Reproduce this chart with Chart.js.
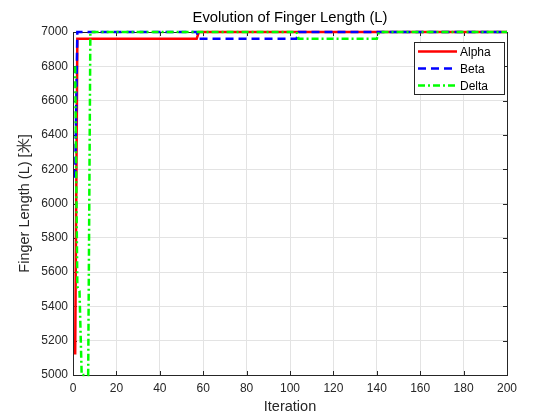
<!DOCTYPE html>
<html>
<head>
<meta charset="utf-8">
<script src="https://cdn.jsdelivr.net/npm/chart.js@4.4.0/dist/chart.umd.min.js"></script>
<style>
  html, body { margin: 0; padding: 0; background: #fff; }
  #wrap { width: 560px; height: 420px; }
</style>
</head>
<body>
<div id="wrap"><canvas id="finger"></canvas></div>
<script>
// step points (iteration, value)
const alphaIter = [1, 2, 57, 58, 200];
const alphaVal  = [5120, 6960, 6960, 7000, 7000];
const betaIter  = [1, 2, 57, 58, 103, 104, 200];
const betaVal   = [6150, 7000, 7000, 6960, 6960, 7000, 7000];
const deltaIter = [1, 2, 3, 4, 7, 8, 103, 104, 140, 141, 200];
const deltaVal  = [6800, 5515, 5490, 5000, 5000, 7000, 7000, 6960, 6960, 7000, 7000];
const xTicks = [0, 20, 40, 60, 80, 100, 120, 140, 160, 180, 200];
const yTicks = [5000, 5200, 5400, 5600, 5800, 6000, 6200, 6400, 6600, 6800, 7000];

function pts(xs, ys) {
    return xs.map((x, i) => ({ x: x, y: ys[i] }));
}

const font = "'Liberation Sans', Arial, sans-serif";
const axisColor = '#262626';
const lineClip = { left: 0, right: 0, top: 3, bottom: 3 };

// frame + inner ticks under the lines, title and legend on top
const matlabLook = {
    id: 'matlabLook',
    beforeDatasetsDraw(chart) {
        const ctx = chart.ctx;
        const a = chart.chartArea;
        const xs = chart.scales.x, ys = chart.scales.y;
        ctx.save();
        ctx.strokeStyle = axisColor;
        ctx.lineWidth = 1;
        ctx.beginPath();
        xTicks.forEach(v => {
            const p = Math.round(xs.getPixelForValue(v)) + 0.5;
            ctx.moveTo(p, a.bottom); ctx.lineTo(p, a.bottom - 4);
            ctx.moveTo(p, a.top); ctx.lineTo(p, a.top + 4);
        });
        yTicks.forEach(v => {
            const p = Math.round(ys.getPixelForValue(v)) + 0.5;
            ctx.moveTo(a.left, p); ctx.lineTo(a.left + 4, p);
            ctx.moveTo(a.right, p); ctx.lineTo(a.right - 4, p);
        });
        ctx.stroke();
        ctx.strokeRect(Math.round(a.left) + 0.5, Math.round(a.top) + 0.5,
            Math.round(a.right - a.left), Math.round(a.bottom - a.top));
        ctx.restore();
    },
    afterDraw(chart) {
        const ctx = chart.ctx;
        const a = chart.chartArea;
        ctx.save();
        // title
        ctx.fillStyle = '#000';
        ctx.font = '14.8px ' + font;
        ctx.textAlign = 'center';
        ctx.textBaseline = 'middle';
        ctx.fillText('Evolution of Finger Length (L)', (a.left + a.right) / 2, 18);

        // legend box
        const bx = 414, by = 42, bw = 90, bh = 52;
        ctx.fillStyle = '#fff';
        ctx.fillRect(bx, by, bw, bh);
        ctx.strokeStyle = axisColor;
        ctx.lineWidth = 1;
        ctx.strokeRect(bx + 0.5, by + 0.5, bw, bh);
        ctx.font = '12px ' + font;
        ctx.textAlign = 'left';
        chart.data.datasets.forEach((ds, i) => {
            const y = by + 9.5 + i * 17;
            ctx.strokeStyle = ds.borderColor;
            ctx.lineWidth = ds.borderWidth;
            ctx.setLineDash(ds.borderDash || []);
            ctx.beginPath();
            ctx.moveTo(bx + 4, y); ctx.lineTo(bx + 43, y);
            ctx.stroke();
            ctx.setLineDash([]);
            ctx.fillStyle = '#000';
            ctx.fillText(ds.label, bx + 46, y + 1);
        });
        ctx.restore();
    }
};

new Chart(document.getElementById('finger'), {
    type: 'line',
    data: {
        datasets: [
            { label: 'Alpha', data: pts(alphaIter, alphaVal), borderColor: '#ff0000', borderWidth: 2.5, order: 3, clip: lineClip },
            { label: 'Beta', data: pts(betaIter, betaVal), borderColor: '#0000ff', borderWidth: 2.5, borderDash: [8, 5], order: 2, clip: lineClip },
            { label: 'Delta', data: pts(deltaIter, deltaVal), borderColor: '#00ff00', borderWidth: 2.5, borderDash: [7, 3, 2, 3], order: 1, clip: lineClip }
        ]
    },
    options: {
        responsive: true,
        maintainAspectRatio: false,
        animation: false,
        devicePixelRatio: 1,
        layout: { padding: { top: 32, right: 53, left: 0, bottom: 0 } },
        elements: { point: { radius: 0 }, line: { tension: 0, borderCapStyle: 'butt' } },
        plugins: {
            legend: { display: false },
            tooltip: { enabled: false }
        },
        scales: {
            x: {
                type: 'linear',
                min: 0, max: 200,
                afterFit: s => { s.height = 45; },
                afterBuildTicks: s => { s.ticks = xTicks.map(v => ({ value: v })); },
                grid: { color: '#e3e3e3', drawTicks: false },
                border: { display: false },
                ticks: { color: axisColor, font: { family: font, size: 12 }, padding: 6, maxRotation: 0, callback: v => String(v) },
                title: { display: true, text: 'Iteration', color: axisColor, font: { family: font, size: 14.5 }, padding: { top: 2 } }
            },
            y: {
                min: 5000, max: 7000,
                afterFit: s => { s.width = 73; },
                afterBuildTicks: s => { s.ticks = yTicks.map(v => ({ value: v })); },
                grid: { color: '#e3e3e3', drawTicks: false },
                border: { display: false },
                ticks: { color: axisColor, font: { family: font, size: 12 }, padding: 5, callback: v => String(v) },
                title: { display: true, text: 'Finger Length (L) [米]', color: axisColor, font: { family: font, size: 14.5 }, padding: { top: 16, bottom: 4 } }
            }
        }
    },
    plugins: [matlabLook]
});
</script>
</body>
</html>
